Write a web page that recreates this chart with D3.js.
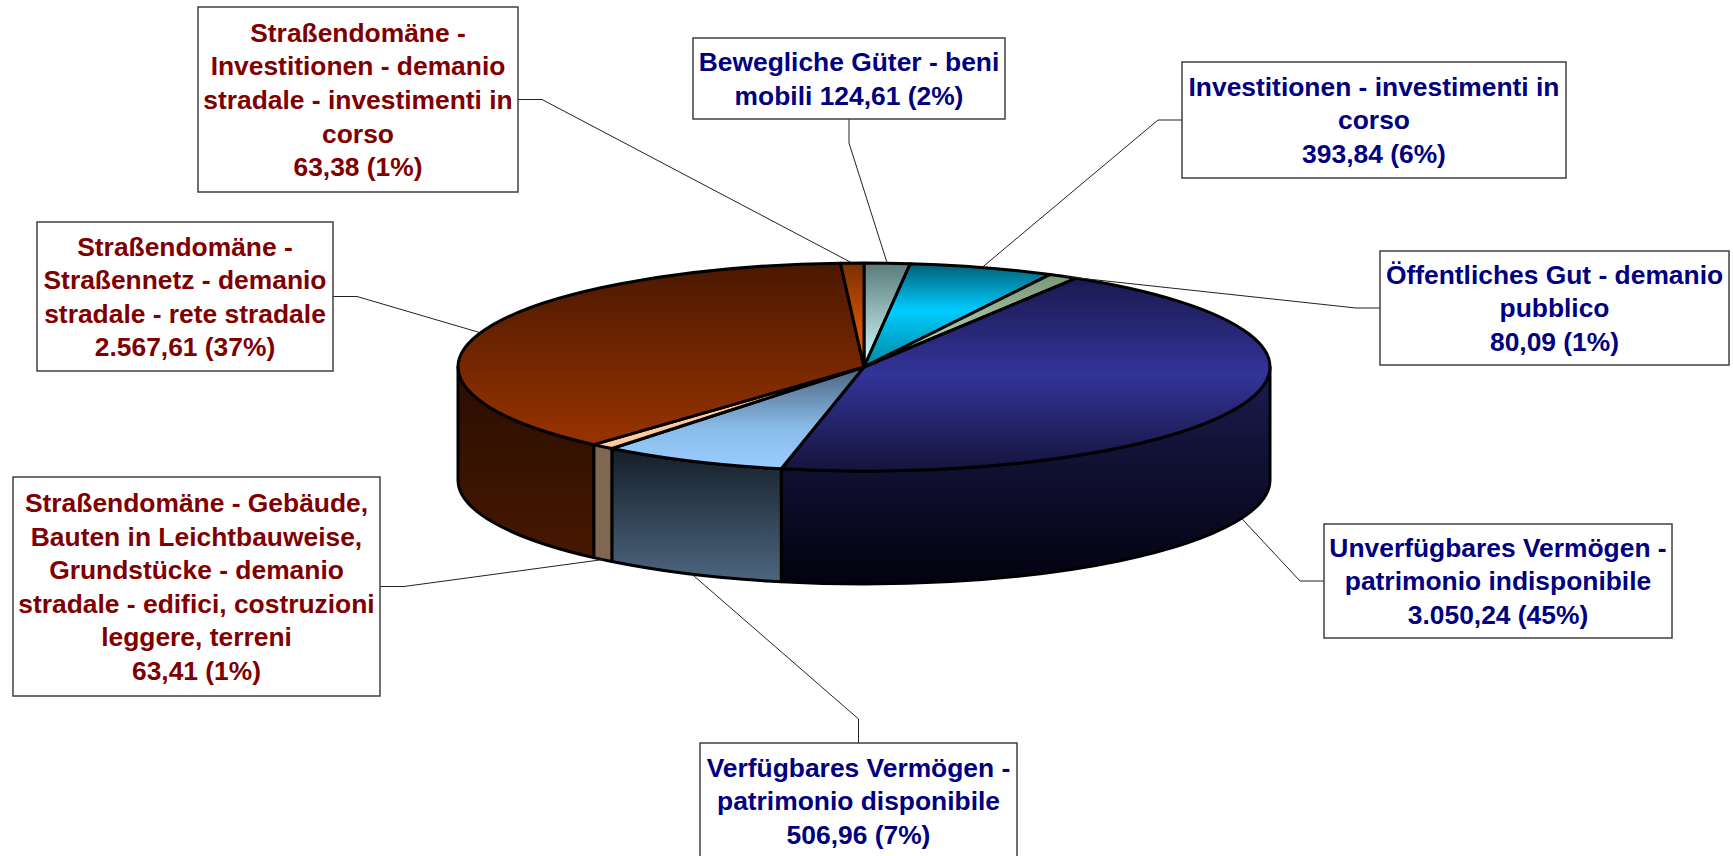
<!DOCTYPE html>
<html lang="de">
<head>
  <meta charset="UTF-8">
  <title>Vermögen - patrimonio</title>
  <script src="https://cdnjs.cloudflare.com/ajax/libs/d3/7.8.5/d3.min.js"></script>
  <style>
    body, html {
      margin: 0;
      padding: 0;
      background: #fff;
    }
    svg {
      display: block;
    }
    .label-box {
      fill: #fff;
      stroke: #404040;
      stroke-width: 1.5px;
    }
    .label-text {
      font-family: Arial, "Liberation Sans", sans-serif;
      font-weight: bold;
      font-size: 26.4px;
      text-anchor: middle;
    }
    .leader {
      fill: none;
      stroke: #222;
      stroke-width: 1px;
    }
    .slice {
      stroke: #000;
      stroke-width: 3px;
      stroke-linejoin: round;
    }
  </style>
</head>
<body>
  <svg width="1733" height="856"></svg>

  <script>
    // data, in pie order (clockwise from 12 o'clock)
    const categories = [
      "Bewegliche Güter - beni mobili",
      "Investitionen - investimenti in corso",
      "Öffentliches Gut - demanio pubblico",
      "Unverfügbares Vermögen - patrimonio indisponibile",
      "Verfügbares Vermögen - patrimonio disponibile",
      "Straßendomäne - Gebäude, Bauten in Leichtbauweise, Grundstücke - demanio stradale - edifici, costruzioni leggere, terreni",
      "Straßendomäne - Straßennetz - demanio stradale - rete stradale",
      "Straßendomäne - Investitionen - demanio stradale - investimenti in corso"
    ];
    const values = [124.61, 393.84, 80.09, 3050.24, 506.96, 63.41, 2567.61, 63.38];

    // label text as it wraps in the boxes
    const labelLines = [
      ["Bewegliche Güter - beni", "mobili"],
      ["Investitionen - investimenti in", "corso"],
      ["Öffentliches Gut - demanio", "pubblico"],
      ["Unverfügbares Vermögen -", "patrimonio indisponibile"],
      ["Verfügbares Vermögen -", "patrimonio disponibile"],
      ["Straßendomäne - Gebäude,", "Bauten in Leichtbauweise,", "Grundstücke - demanio", "stradale - edifici, costruzioni", "leggere, terreni"],
      ["Straßendomäne -", "Straßennetz - demanio", "stradale - rete stradale"],
      ["Straßendomäne -", "Investitionen - demanio", "stradale - investimenti in", "corso"]
    ];
    const valueOnLastLine = [true, false, false, false, false, false, false, false];

    // styles
    const textColors = ["#000080", "#000080", "#000080", "#000080", "#000080", "#800000", "#800000", "#800000"];
    const topStops = [
      [[0, "#5b7b7b"], [1, "#d4ffff"]],
      [[0, "#005f75"], [0.45, "#00ccff"], [1, "#0088a0"]],
      [[0, "#7a967a"], [1, "#c4e4c4"]],
      [[0, "#1a1a50"], [0.5, "#333399"], [1, "#14143c"]],
      [[0, "#4a627c"], [0.6, "#8abce8"], [1, "#99ccff"]],
      [[0, "#ffcc99"], [1, "#ffcc99"]],
      [[0, "#4a1800"], [1, "#993300"]],
      [[0, "#7a3000"], [1, "#ff6600"]]
    ];
    const sideStops = [
      [[0, "#3d5252"], [1, "#5b7b7b"]],
      [[0, "#004050"], [1, "#006a80"]],
      [[0, "#506450"], [1, "#7a967a"]],
      [[0, "#1c1c50"], [1, "#02020f"]],
      [[0, "#151e28"], [1, "#4d6680"]],
      [[0, "#806850"], [1, "#806850"]],
      [[0, "#2a0d00"], [1, "#461800"]],
      [[0, "#4a1c00"], [1, "#7a3000"]]
    ];

    // label box layout: x, y, width, height, side the leader attaches to
    const boxes = [
      { x: 693, y: 38, w: 312, h: 81, side: "bottom" },
      { x: 1182, y: 62, w: 384, h: 116, side: "left" },
      { x: 1380, y: 251, w: 349, h: 114, side: "left" },
      { x: 1324, y: 524, w: 348, h: 114, side: "left" },
      { x: 700, y: 743, w: 317, h: 116, side: "top" },
      { x: 13, y: 477, w: 367, h: 219, side: "right" },
      { x: 37, y: 222, w: 296, h: 149, side: "right" },
      { x: 198, y: 7, w: 320, h: 185, side: "right" }
    ];

    const cx = 864, cy = 367, rx = 406, ry = 104, depth = 113;
    const fontSize = 26.4, lineH = 33.6, stub = 24;

    const de = d3.formatLocale({ decimal: ",", thousands: ".", grouping: [3], currency: ["", " €"] });
    const fmtNum = de.format(",.2f");
    const fmtPct = de.format(".0%");
    const total = d3.sum(values);

    const svg = d3.select("svg");
    const defs = svg.append("defs");

    function addGrad(id, stops) {
      const g = defs.append("linearGradient")
        .attr("id", id)
        .attr("x1", 0).attr("y1", 0).attr("x2", 0).attr("y2", 1);
      stops.forEach(s => g.append("stop").attr("offset", s[0]).attr("stop-color", s[1]));
    }
    values.forEach((v, i) => {
      addGrad("top" + i, topStops[i]);
      addGrad("side" + i, sideStops[i]);
    });

    const pie = d3.pie().sort(null).value(d => d)
      .startAngle(0).endAngle(2 * Math.PI);
    const slices = pie(values);

    // ellipse projection, angle clockwise from top
    const px = a => cx + rx * Math.sin(a);
    const py = a => cy - ry * Math.cos(a);

    function topPath(d) {
      const a0 = d.startAngle, a1 = d.endAngle;
      const large = a1 - a0 > Math.PI ? 1 : 0;
      return `M${cx},${cy}L${px(a0)},${py(a0)}A${rx},${ry} 0 ${large} 1 ${px(a1)},${py(a1)}Z`;
    }

    function sidePath(d) {
      const a0 = Math.max(d.startAngle, Math.PI / 2);
      const a1 = Math.min(d.endAngle, 3 * Math.PI / 2);
      if (a1 <= a0) return null;
      return `M${px(a0)},${py(a0)}A${rx},${ry} 0 0 1 ${px(a1)},${py(a1)}` +
        `L${px(a1)},${py(a1) + depth}A${rx},${ry} 0 0 0 ${px(a0)},${py(a0) + depth}Z`;
    }

    const pieG = svg.append("g");

    pieG.selectAll(".side")
      .data(slices.filter(d => sidePath(d)))
      .enter().append("path")
      .attr("class", "slice side")
      .attr("d", sidePath)
      .attr("fill", d => `url(#side${d.index})`);

    pieG.selectAll(".top")
      .data(slices)
      .enter().append("path")
      .attr("class", "slice top")
      .attr("d", topPath)
      .attr("fill", d => `url(#top${d.index})`);

    // leader lines
    function anchor(d) {
      const m = (d.startAngle + d.endAngle) / 2;
      const front = Math.cos(m) < 0;
      return [px(m), py(m) + (front ? depth : 0)];
    }

    function leaderPoints(d) {
      const b = boxes[d.index];
      let e, s;
      if (b.side === "bottom") { e = [b.x + b.w / 2, b.y + b.h]; s = [e[0], e[1] + stub]; }
      else if (b.side === "top") { e = [b.x + b.w / 2, b.y]; s = [e[0], e[1] - stub]; }
      else if (b.side === "left") { e = [b.x, b.y + b.h / 2]; s = [e[0] - stub, e[1]]; }
      else { e = [b.x + b.w, b.y + b.h / 2]; s = [e[0] + stub, e[1]]; }
      return [anchor(d), s, e];
    }

    svg.selectAll(".leader")
      .data(slices)
      .enter().append("path")
      .attr("class", "leader")
      .attr("d", d => d3.line()(leaderPoints(d)));

    // label boxes
    const labels = svg.selectAll(".label")
      .data(slices)
      .enter().append("g")
      .attr("class", "label");

    labels.append("rect")
      .attr("class", "label-box")
      .attr("x", d => boxes[d.index].x)
      .attr("y", d => boxes[d.index].y)
      .attr("width", d => boxes[d.index].w)
      .attr("height", d => boxes[d.index].h);

    labels.each(function (d) {
      const i = d.index;
      const b = boxes[i];
      const valText = `${fmtNum(values[i])} (${fmtPct(values[i] / total)})`;
      const lines = labelLines[i].slice();
      if (valueOnLastLine[i]) lines[lines.length - 1] += " " + valText;
      else lines.push(valText);
      const mid = b.y + b.h / 2;
      const t = d3.select(this).append("text")
        .attr("class", "label-text")
        .attr("fill", textColors[i]);
      lines.forEach((ln, k) => {
        t.append("tspan")
          .attr("x", b.x + b.w / 2)
          .attr("y", mid + (k - (lines.length - 1) / 2) * lineH + fontSize * 0.358)
          .text(ln);
      });
    });
  </script>
</body>
</html>
